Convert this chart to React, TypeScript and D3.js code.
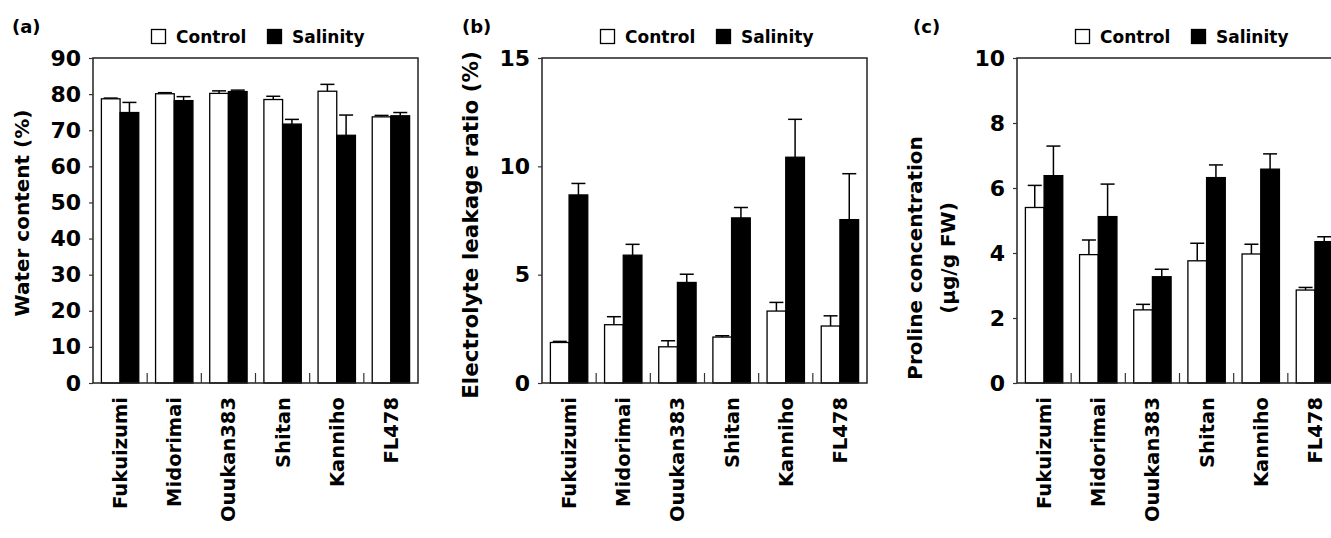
import React, { useEffect, useRef } from 'react';
import * as d3 from 'd3';

const categories = ["Fukuizumi", "Midorimai", "Ouukan383", "Shitan", "Kanniho", "FL478"];
const seriesNames = ["Control", "Salinity"];

const waterControl = [78.7, 80.1, 80.2, 78.5, 80.8, 73.7];
const waterControlErr = [0.2, 0.3, 0.7, 0.9, 1.9, 0.4];
const waterSalinity = [74.9, 78.2, 80.7, 71.7, 68.6, 74.0];
const waterSalinityErr = [2.8, 1.1, 0.4, 1.3, 5.6, 0.9];
const waterTicks = [0, 10, 20, 30, 40, 50, 60, 70, 80, 90];

const leakControl = [1.87, 2.69, 1.67, 2.12, 3.32, 2.63];
const leakControlErr = [0.05, 0.37, 0.28, 0.06, 0.4, 0.47];
const leakSalinity = [8.68, 5.9, 4.64, 7.62, 10.42, 7.54];
const leakSalinityErr = [0.53, 0.5, 0.38, 0.48, 1.75, 2.12];
const leakTicks = [0, 5, 10, 15];

const prolineControl = [5.4, 3.95, 2.25, 3.76, 3.97, 2.86];
const prolineControlErr = [0.68, 0.45, 0.17, 0.54, 0.3, 0.08];
const prolineSalinity = [6.38, 5.12, 3.27, 6.32, 6.58, 4.35];
const prolineSalinityErr = [0.91, 1.0, 0.23, 0.39, 0.47, 0.15];
const prolineTicks = [0, 2, 4, 6, 8, 10];

const FONT = "'DejaVu Sans', Verdana, sans-serif";

function App() {
  const ref = useRef<SVGSVGElement>(null);

  useEffect(() => {
    const svg = d3.select(ref.current);
    svg.selectAll("*").remove();

    const panels = [
      { tag: "(a)", tagX: 12, left: 93, title: ["Water content (%)"], titleX: [22], titleY: 213, titleSize: 20,
        ctrl: waterControl, ctrlErr: waterControlErr, sal: waterSalinity, salErr: waterSalinityErr, ticks: waterTicks },
      { tag: "(b)", tagX: 462, left: 542, title: ["Electrolyte leakage ratio (%)"], titleX: [471], titleY: 225, titleSize: 21.5,
        ctrl: leakControl, ctrlErr: leakControlErr, sal: leakSalinity, salErr: leakSalinityErr, ticks: leakTicks },
      { tag: "(c)", tagX: 913, left: 1017, title: ["Proline concentration", "(\u03bcg/g FW)"], titleX: [915, 948], titleY: 258, titleSize: 20,
        ctrl: prolineControl, ctrlErr: prolineControlErr, sal: prolineSalinity, salErr: prolineSalinityErr, ticks: prolineTicks },
    ];

    const top = 58, bottom = 383, width = 325;

    panels.forEach(p => {
      const g = svg.append("g").attr("transform", `translate(${p.left},0)`);
      const x = d3.scaleBand().domain(categories).range([0, width]).padding(0);
      const bw = x.bandwidth();
      const pairW = bw * 0.69;
      const x1 = d3.scaleBand().domain(seriesNames).range([(bw - pairW) / 2, (bw + pairW) / 2]).padding(0);
      const y = d3.scaleLinear().domain([0, d3.max(p.ticks) as number]).range([bottom, top]);

      const rows = categories.map((c, i) => [
        { c, s: "Control", v: p.ctrl[i], e: p.ctrlErr[i] },
        { c, s: "Salinity", v: p.sal[i], e: p.salErr[i] },
      ]).flat();

      // error bars, upward only
      const capW = 14;
      rows.forEach(d => {
        const cx = (x(d.c) as number) + (x1(d.s) as number) + x1.bandwidth() / 2;
        g.append("line").attr("x1", cx).attr("x2", cx)
          .attr("y1", y(d.v)).attr("y2", y(d.v + d.e))
          .attr("stroke", "#000").attr("stroke-width", 1.5);
        g.append("line").attr("x1", cx - capW / 2).attr("x2", cx + capW / 2)
          .attr("y1", y(d.v + d.e)).attr("y2", y(d.v + d.e))
          .attr("stroke", "#000").attr("stroke-width", 1.5);
      });

      g.selectAll("rect.bar").data(rows).enter().append("rect")
        .attr("class", "bar")
        .attr("x", d => (x(d.c) as number) + (x1(d.s) as number))
        .attr("y", d => y(d.v))
        .attr("width", x1.bandwidth())
        .attr("height", d => y(0) - y(d.v))
        .attr("fill", d => d.s === "Control" ? "#fff" : "#000")
        .attr("stroke", "#000").attr("stroke-width", 1.3);

      // frame
      g.append("rect").attr("x", 0).attr("y", top).attr("width", width).attr("height", bottom - top)
        .attr("fill", "none").attr("stroke", "#222").attr("stroke-width", 1.5);

      // ticks between categories
      categories.slice(1).forEach(c => {
        const xx = x(c) as number;
        g.append("line").attr("x1", xx).attr("x2", xx).attr("y1", bottom).attr("y2", bottom - 10)
          .attr("stroke", "#333").attr("stroke-width", 1.2);
      });

      const ax = g.append("g").call(d3.axisLeft(y).tickValues(p.ticks).tickSize(4).tickPadding(8));
      ax.select(".domain").remove();
      ax.selectAll("line").attr("stroke", "#333").attr("stroke-width", 1.2);
      ax.selectAll("text").attr("font-family", FONT).attr("font-weight", "bold")
        .attr("font-size", 22).attr("fill", "#000");

      categories.forEach(c => {
        const cx = (x(c) as number) + bw / 2;
        g.append("text").attr("transform", `translate(${cx + 7},397) rotate(-90)`)
          .attr("text-anchor", "end").attr("font-family", FONT).attr("font-weight", "bold")
          .attr("font-size", 19.5).text(c);
      });

      p.title.forEach((t, i) => {
        g.append("text").attr("transform", `translate(${p.titleX[i] - p.left + 7},${p.titleY}) rotate(-90)`)
          .attr("text-anchor", "middle").attr("font-family", FONT).attr("font-weight", "bold")
          .attr("font-size", p.titleSize).text(t);
      });

      svg.append("text").attr("x", p.tagX).attr("y", 33).attr("font-family", FONT)
        .attr("font-weight", "bold").attr("font-size", 18).text(p.tag);

      // legend
      const lg = g.append("g").attr("transform", `translate(58,29)`);
      seriesNames.forEach((s, i) => {
        const ox = i * 116;
        lg.append("rect").attr("x", ox + 0.5).attr("y", 0.5).attr("width", 14).attr("height", 14)
          .attr("fill", s === "Control" ? "#fff" : "#000").attr("stroke", "#000").attr("stroke-width", 1.3);
        lg.append("text").attr("x", ox + 25).attr("y", 14).attr("font-family", FONT)
          .attr("font-weight", "bold").attr("font-size", 17).text(s);
      });
    });
  }, []);

  return (
    <svg ref={ref} width={1331} height={538}
      style={{ position: 'absolute', left: 0, top: 0, background: '#fff', display: 'block' }} />
  );
}

export default App;
